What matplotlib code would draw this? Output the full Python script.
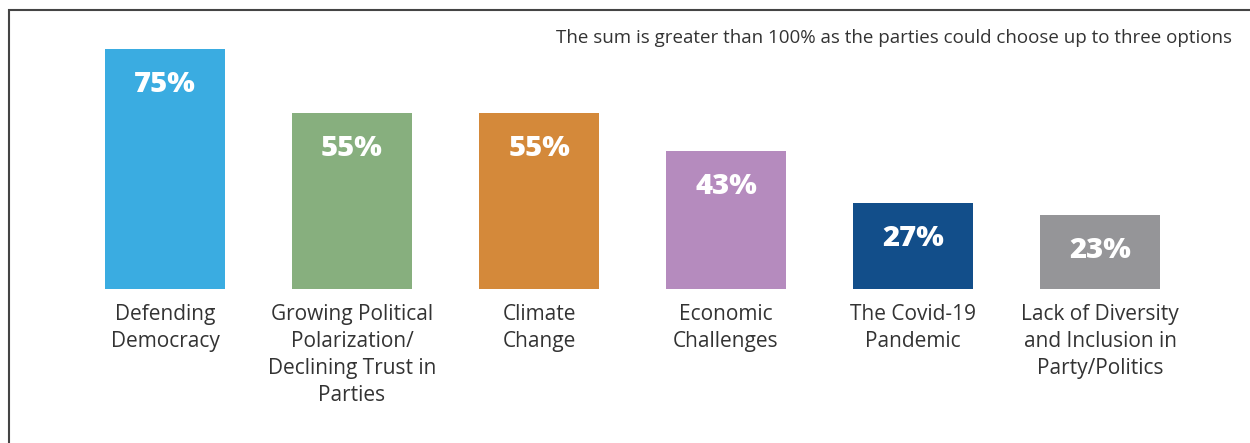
import matplotlib
matplotlib.use("Agg")
import matplotlib.pyplot as plt
from matplotlib.patches import Rectangle

categories = ["Defending\nDemocracy",
              "Growing Political\nPolarization/\nDeclining Trust in\nParties",
              "Climate\nChange",
              "Economic\nChallenges",
              "The Covid-19\nPandemic",
              "Lack of Diversity\nand Inclusion in\nParty/Politics"]
values = [75, 55, 55, 43, 27, 23]
colors = ["#3AACE1", "#87AF7E", "#D4893A", "#B58BBE", "#124E8A", "#959598"]
note = "The sum is greater than 100% as the parties could choose up to three options"

plt.rcParams['font.family'] = ['Open Sans', 'DejaVu Sans']

fig = plt.figure(figsize=(12.5, 4.43), dpi=100)
W, H = 1250, 443

# frame around the chart (right/bottom run off the image)
fig.patches.append(Rectangle((9 / W, -0.1), 1.2, (433 / H) + 0.1, transform=fig.transFigure,
                             fill=False, edgecolor="#444444", linewidth=1.5))

ax = fig.add_axes([0, (H - 289) / H, 1, 240 / H])
x = list(range(len(values)))
ax.bar(x, values, width=120 / 187, color=colors)
ax.set_xlim(-165 / 187, (W - 165) / 187)
ax.set_ylim(0, 75)
ax.axis("off")

for i, v in enumerate(values):
    ax.annotate(f"{v}%", xy=(i, v), xytext=(0, -25.5), textcoords="offset points",
                ha="center", va="center", color="white", fontsize=21, fontweight="heavy")
    ax.annotate(categories[i], xy=(i, 0), xytext=(0, -11), textcoords="offset points",
                ha="center", va="top", color="#333333", fontsize=15, linespacing=1.36)

fig.text(1232 / W, 1 - 38 / H, note, ha="right", va="center", fontsize=13.5, color="#333333")

fig.savefig("out.png", dpi=100)
